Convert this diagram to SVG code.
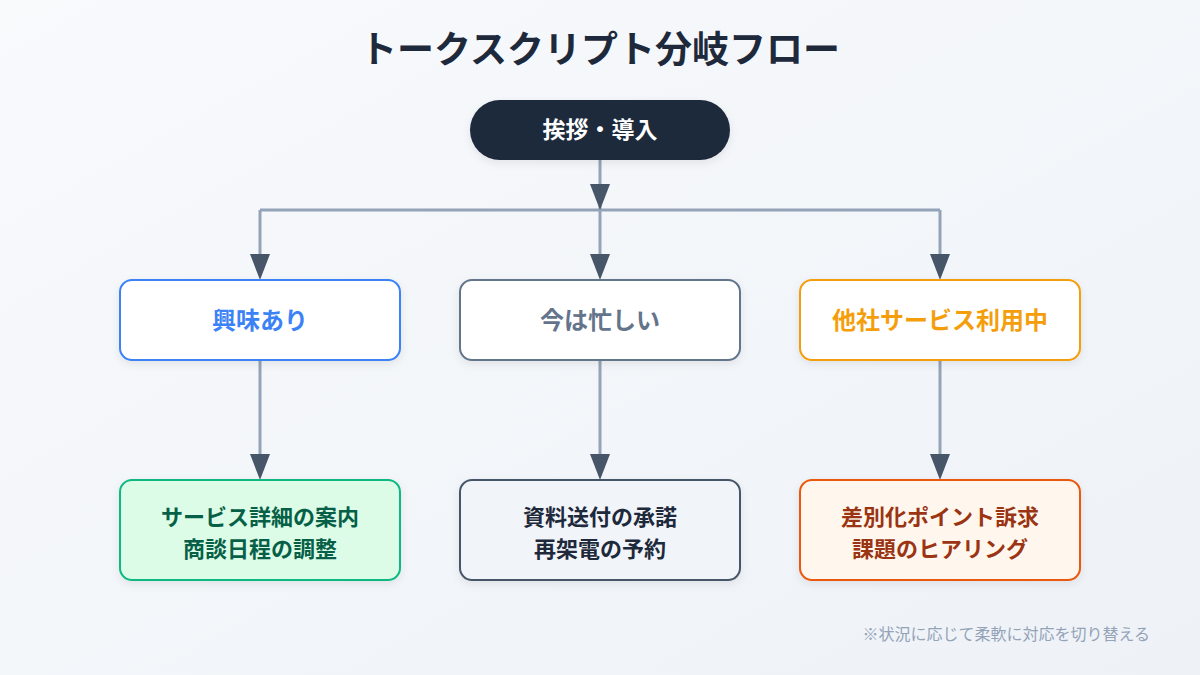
<svg xmlns="http://www.w3.org/2000/svg" width="1200" height="675" viewBox="0 0 1200 675">
<defs>
<linearGradient id="bg" x1="0" y1="0" x2="1" y2="1">
<stop offset="0" stop-color="#f8fafc"/>
<stop offset="1" stop-color="#eef2f7"/>
</linearGradient>
<filter id="sh" x="-10%" y="-10%" width="120%" height="130%">
<feDropShadow dx="0" dy="3" stdDeviation="4" flood-color="#0f172a" flood-opacity="0.08"/>
</filter>
<style>
text{font-family:"Noto Sans CJK JP","Noto Sans",sans-serif;font-weight:700;text-anchor:middle;}
.title{font-size:37px;fill:#1e293b;}
.mid{font-size:24px;}
.bot{font-size:22px;}
.line{fill:none;stroke:#94a3b8;stroke-width:3;}
.arrow{fill:#475569;}
.box{filter:url(#sh);}
</style>
</defs>
<rect width="1200" height="675" fill="url(#bg)"/>
<text class="title" x="600" y="63">トークスクリプト分岐フロー</text>

<g id="connectors">
<line class="line" x1="600" y1="160" x2="600" y2="262"/>
<line class="line" x1="260" y1="210" x2="940" y2="210"/>
<line class="line" x1="260" y1="210" x2="260" y2="262"/>
<line class="line" x1="940" y1="210" x2="940" y2="262"/>
<line class="line" x1="260" y1="360" x2="260" y2="462"/>
<line class="line" x1="600" y1="360" x2="600" y2="462"/>
<line class="line" x1="940" y1="360" x2="940" y2="462"/>
<path class="arrow" d="M590,184 L610,184 L600,210 Z"/>
<path class="arrow" d="M250,254 L270,254 L260,280 Z"/>
<path class="arrow" d="M590,254 L610,254 L600,280 Z"/>
<path class="arrow" d="M930,254 L950,254 L940,280 Z"/>
<path class="arrow" d="M250,454 L270,454 L260,480 Z"/>
<path class="arrow" d="M590,454 L610,454 L600,480 Z"/>
<path class="arrow" d="M930,454 L950,454 L940,480 Z"/>
</g>

<g id="start">
<rect class="box" x="470" y="100" width="260" height="60" rx="30" fill="#1e293b"/>
<text x="600" y="138" font-size="23" fill="#ffffff">挨拶・導入</text>
</g>

<g id="interested">
<rect class="box" x="120" y="280" width="280" height="80" rx="12" fill="#ffffff" stroke="#3b82f6" stroke-width="2"/>
<text class="mid" x="260" y="329" fill="#3b82f6">興味あり</text>
</g>
<g id="busy">
<rect class="box" x="460" y="280" width="280" height="80" rx="12" fill="#ffffff" stroke="#64748b" stroke-width="2"/>
<text class="mid" x="600" y="329" fill="#64748b">今は忙しい</text>
</g>
<g id="competitor">
<rect class="box" x="800" y="280" width="280" height="80" rx="12" fill="#ffffff" stroke="#f59e0b" stroke-width="2"/>
<text class="mid" x="940" y="329" fill="#f59e0b">他社サービス利用中</text>
</g>

<g id="detail">
<rect class="box" x="120" y="480" width="280" height="100" rx="12" fill="#dcfce7" stroke="#10b981" stroke-width="2"/>
<text class="bot" x="260" y="525" fill="#065f46">サービス詳細の案内</text>
<text class="bot" x="260" y="557" fill="#065f46">商談日程の調整</text>
</g>
<g id="recall">
<rect class="box" x="460" y="480" width="280" height="100" rx="12" fill="#f1f5f9" stroke="#475569" stroke-width="2"/>
<text class="bot" x="600" y="525" fill="#1e293b">資料送付の承諾</text>
<text class="bot" x="600" y="557" fill="#1e293b">再架電の予約</text>
</g>
<g id="diff">
<rect class="box" x="800" y="480" width="280" height="100" rx="12" fill="#fff7ed" stroke="#ea580c" stroke-width="2"/>
<text class="bot" x="940" y="525" fill="#9a3412">差別化ポイント訴求</text>
<text class="bot" x="940" y="557" fill="#9a3412">課題のヒアリング</text>
</g>

<text x="1150" y="640" font-size="16" fill="#94a3b8" style="text-anchor:end;font-weight:400">※状況に応じて柔軟に対応を切り替える</text>
</svg>
